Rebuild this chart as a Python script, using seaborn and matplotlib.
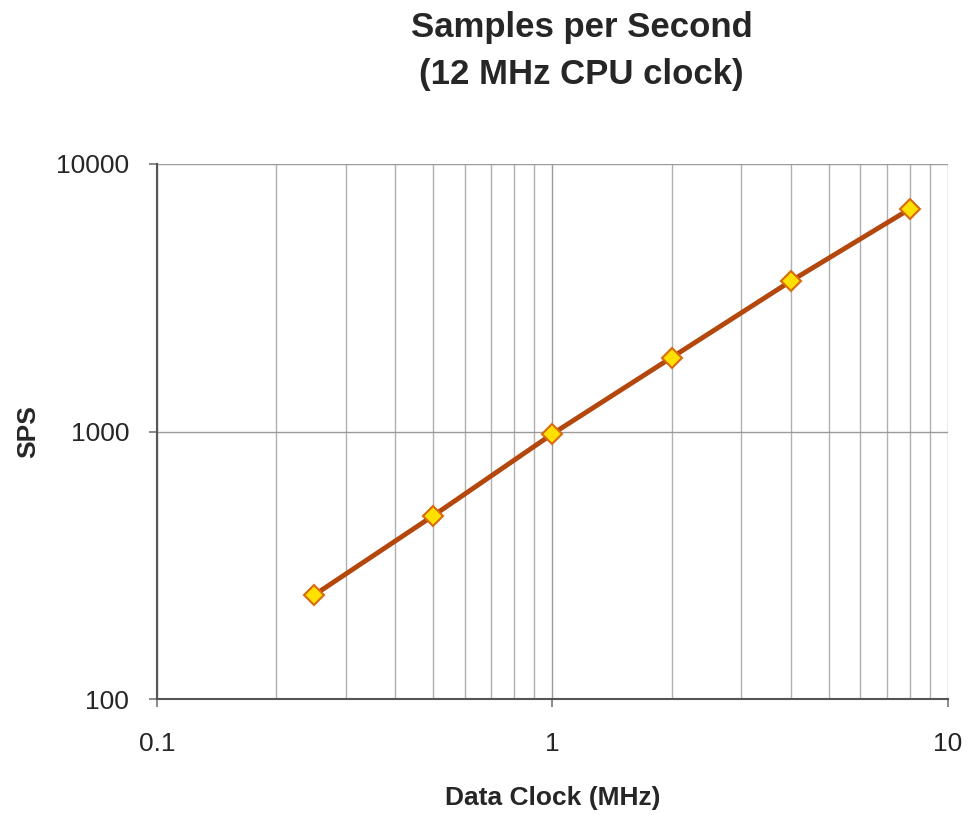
import numpy as np
import pandas as pd
import seaborn as sns
import matplotlib.pyplot as plt
from matplotlib.ticker import FixedLocator, FixedFormatter, NullFormatter

# data
data_clock_mhz = [0.25, 0.5, 1, 2, 4, 8]
sps = [245, 485, 980, 1890, 3645, 6780]

x_ticks = [0.1, 1, 10]
x_tick_labels = ['0.1', '1', '10']
y_ticks = [100, 1000, 10000]
y_tick_labels = ['100', '1000', '10000']

df = pd.DataFrame({'Data Clock (MHz)': data_clock_mhz, 'SPS': sps})

sns.set_style('white')
plt.rcParams['font.family'] = ['Liberation Sans', 'DejaVu Sans']

fig = plt.figure(figsize=(9.68, 8.15), dpi=100)
ax = fig.add_axes([0.1622, 0.1423, 0.9793 - 0.1622, 0.7988 - 0.1423])

sns.lineplot(data=df, x='Data Clock (MHz)', y='SPS', ax=ax,
             color='#b4470c', linewidth=3.5, marker='D', markersize=10,
             markerfacecolor='#ffe000', markeredgecolor='#d86a10',
             markeredgewidth=1.5, zorder=3)

ax.set_xscale('log')
ax.set_yscale('log')
ax.set_xlim(0.1, 10)
ax.set_ylim(100, 10000)

ax.xaxis.set_major_locator(FixedLocator(x_ticks))
ax.xaxis.set_major_formatter(FixedFormatter(x_tick_labels))
minor_x = [m * d for d in [0.1, 1] for m in range(2, 10)]
ax.xaxis.set_minor_locator(FixedLocator(minor_x))
ax.xaxis.set_minor_formatter(NullFormatter())
ax.yaxis.set_major_locator(FixedLocator(y_ticks))
ax.yaxis.set_major_formatter(FixedFormatter(y_tick_labels))
ax.yaxis.set_minor_locator(FixedLocator([]))

ax.grid(which='major', axis='both', color='#9a9a9a', linewidth=1.0)
ax.grid(which='minor', axis='x', color='#b0b0b0', linewidth=1.0)
ax.set_axisbelow(True)

for s in ['top', 'right']:
    ax.spines[s].set_visible(False)
for s in ['left', 'bottom']:
    ax.spines[s].set_color('#555555')
    ax.spines[s].set_linewidth(1.5)

ax.tick_params(which='major', direction='out', length=6, width=1.2,
               color='#777777', labelsize=19, left=True, bottom=True)
ax.tick_params(axis='y', pad=14)
ax.tick_params(axis='x', pad=18)
ax.tick_params(which='minor', length=0)

ax.set_xlabel('Data Clock (MHz)', fontsize=19, fontweight='bold')
ax.set_ylabel('SPS', fontsize=19, fontweight='bold')
ax.xaxis.set_label_coords(0.5, -0.163)
ax.yaxis.set_label_coords(-0.148, 0.5)

fig.text(0.601, 0.966, 'Samples per Second', ha='center', va='center',
         fontsize=25, fontweight='bold')
fig.text(0.601, 0.908, '(12 MHz CPU clock)', ha='center', va='center',
         fontsize=25, fontweight='bold')

fig.savefig('out.png', dpi=100, facecolor='white')
